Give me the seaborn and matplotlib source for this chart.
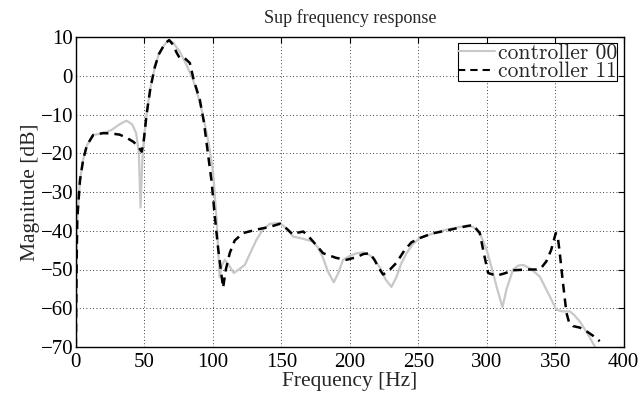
import matplotlib
matplotlib.use("Agg")
import matplotlib.pyplot as plt
import seaborn as sns
import pandas as pd

# values (frequency in Hz, magnitude in dB)
freq_00 = [0, 0.5, 1, 3, 5.3, 8, 12.6, 19.9, 26, 32, 37, 41, 44, 46, 47.2, 48.5, 49.5,
           51.6, 54.5, 57.7, 60.5, 63.7, 66, 68.1, 71, 75.9, 80.5, 85.6, 89, 93, 97,
           100.2, 102.7, 105, 106.5, 108.8, 111, 115.3, 119, 123.4, 127, 131.9, 136,
           141.6, 149, 154, 158.6, 165, 173.2, 177, 180.5, 184, 188.3, 191.5, 195.1,
           200, 205, 209.7, 214, 217, 222, 226, 230.4, 234, 237.5, 241.4, 246, 251,
           260, 270.6, 285.2, 290, 294.9, 300, 304.6, 308, 311.5, 314.5, 319.2, 323,
           326.5, 332, 338.7, 344, 350.9, 355, 360.6, 364, 367.9, 373, 378.8, 380]
mag_00 = [-70, -50, -37, -27, -21.7, -18, -15.3, -14.8, -14, -12.5, -11.6, -12.5, -14.8,
          -20, -34, -22, -17, -10, -3, 2.3, 5.5, 7.5, 8.6, 9.2, 8.5, 6.2, 3, -1.1, -5,
          -10.5, -17.5, -25, -37, -52, -49, -47.5, -48.5, -50.9, -50, -48.8, -46, -42.3,
          -40, -38.2, -38, -39.5, -41.5, -42, -42.8, -44.5, -47, -50.5, -53.3, -51,
          -47.5, -46.5, -45.8, -45.6, -46.2, -47, -49.5, -52.5, -54.5, -52, -48.5,
          -45.8, -43.5, -41.9, -40.8, -39.7, -38.7, -39, -40.6, -45, -50.9, -55.5,
          -59.7, -55, -50, -49, -48.8, -49.8, -51.8, -55.5, -60.4, -60.8, -60.8, -61.8,
          -63.4, -66.2, -69.8, -71]

freq_11 = [0, 0.5, 1, 3, 5.3, 8, 12.6, 19.9, 26, 32, 37, 41.8, 45, 48, 49.5, 51.6, 54.5,
           57.7, 60.5, 63.7, 66, 68.1, 71, 73.5, 75.9, 79.6, 83.2, 86, 90.5, 93.5,
           96.4, 99, 101.5, 104, 107.5, 109.5, 112.4, 116, 122.1, 131.9, 141.6, 149,
           154, 158.6, 162, 166, 170, 175, 180.5, 190, 197.6, 205, 210, 214.6, 218,
           221, 224.3, 228, 234, 240, 245, 251, 260, 270, 280, 290, 294.9, 298, 301,
           307, 313, 319.2, 330, 337.4, 340, 343.5, 347, 350.4, 352, 353.3, 355.5,
           358.2, 360, 363, 368, 372.7, 378, 382.5]
mag_11 = [-70, -50, -37, -27, -21.7, -18, -15.3, -14.8, -14.9, -15.2, -16, -17, -18,
          -19.6, -17, -10, -3, 2.3, 5.5, 7.5, 8.6, 9.2, 8, 6, 4.5, 4.5, 3.3, -1, -6.2,
          -12, -20, -27, -36.4, -45, -54.7, -50, -45.7, -42.5, -40.6, -39.7, -39,
          -38.2, -39.5, -41, -40.5, -40.2, -41.5, -43.5, -45.8, -47, -47.5, -46.8, -46,
          -45.8, -47.5, -49.5, -51.3, -50.5, -48.3, -45, -43, -41.9, -40.7, -40, -39.2,
          -38.5, -40.6, -46, -50.9, -51.6, -51, -50.2, -50, -50, -49.5, -47.9, -45,
          -40.6, -42, -45.7, -53, -61.2, -63.5, -64.6, -65, -65.9, -67.2, -68.5]

x_ticks = [0, 50, 100, 150, 200, 250, 300, 350, 400]
y_ticks = [-70, -60, -50, -40, -30, -20, -10, 0, 10]

df = pd.concat([
    pd.DataFrame({"freq": freq_00, "mag": mag_00, "ctrl": "controller 00"}),
    pd.DataFrame({"freq": freq_11, "mag": mag_11, "ctrl": "controller 11"}),
])

sns.set_style("white")
plt.rcParams["font.family"] = ["Liberation Serif", "DejaVu Serif"]

fig = plt.figure(figsize=(6.43, 4.0), dpi=100)
ax = fig.add_axes([0.118, 0.1325, 0.852, 0.775])

sns.lineplot(data=df, x="freq", y="mag", hue="ctrl", style="ctrl", sort=False,
             palette={"controller 00": "#c8c8c8", "controller 11": "black"},
             dashes={"controller 00": "", "controller 11": (3.5, 2.4)},
             estimator=None, ax=ax)
for ln, lw in zip(ax.lines, [1.6, 1.8]):
    ln.set_linewidth(lw)

ax.set_xlim(0, 400)
ax.set_ylim(-70, 10)
ax.set_xticks(x_ticks)
ax.set_yticks(y_ticks)
ax.grid(True, color="black", linestyle=(0, (1, 3)), linewidth=0.6)
ax.tick_params(direction="in", length=4, width=0.8, labelsize=15,
               top=True, right=True, colors="black")
ax.tick_params(axis="x", pad=4)
ax.tick_params(axis="y", pad=2)
for s in ax.spines.values():
    s.set_color("black")
    s.set_linewidth(1.0)

ax.set_xlabel("Frequency [Hz]", fontsize=15.5, labelpad=0)
ax.set_ylabel("Magnitude [dB]", fontsize=15.5, labelpad=0)
ax.set_title("Sup frequency response", fontsize=13, pad=10)

# legend is set in Computer Modern in the reference
handles, labels = ax.get_legend_handles_labels()
leg = ax.legend(handles, labels, loc="upper right", frameon=True,
                prop={"family": "cmr10", "size": 15.5},
                fancybox=False, edgecolor="black", framealpha=1,
                borderpad=0.0, handlelength=1.7, handletextpad=0.15,
                labelspacing=-0.05, borderaxespad=0.3)
leg.get_frame().set_linewidth(0.8)

fig.savefig("out.png", dpi=100)
